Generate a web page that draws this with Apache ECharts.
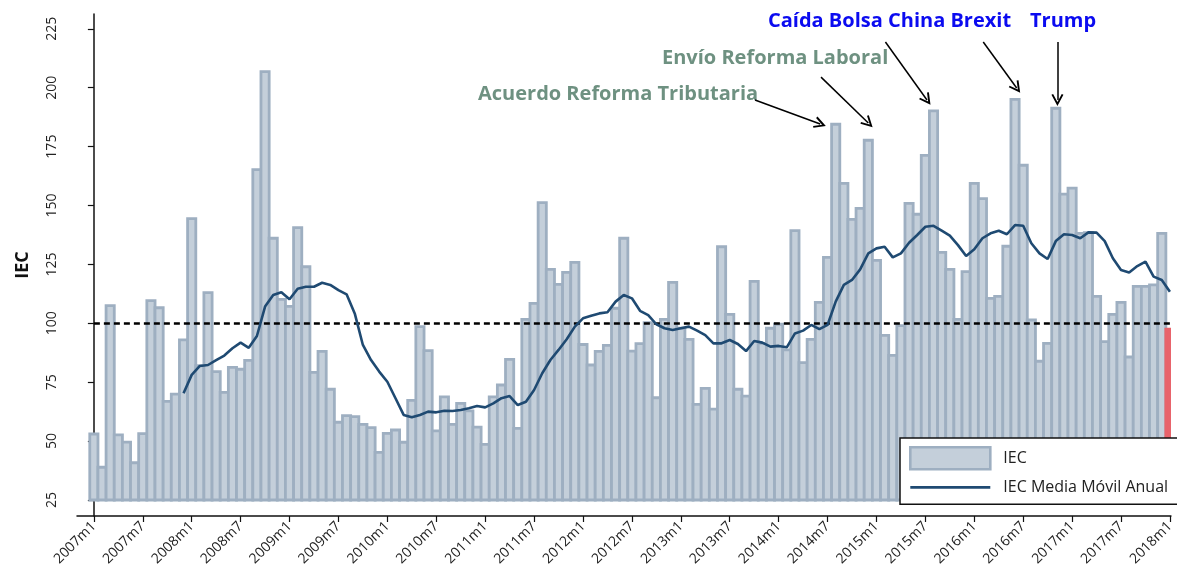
<!DOCTYPE html>
<html>
<head>
<meta charset="utf-8">
<title>IEC</title>
<script src="https://cdn.jsdelivr.net/npm/echarts@6/dist/echarts.min.js"></script>
<style>
  html, body { margin: 0; padding: 0; background: #fff; }
  #chart { width: 1177px; height: 575px; }
</style>
</head>
<body>
<div id="chart"></div>
<script>
// datos mensuales 2007m1 - 2018m1
const startYear = 2007;
const iecValues = [
  53.0, 38.9, 107.5, 52.6, 49.6, 40.8, 53.2, 109.6, 106.6, 66.9, 69.9, 93.0,
  144.4, 82.0, 113.0, 79.5, 70.7, 81.3, 80.5, 84.3, 165.2, 206.8, 136.1, 110.2,
  107.2, 140.6, 124.0, 79.2, 88.1, 72.0, 58.0, 60.8, 60.4, 57.1, 55.7, 45.2,
  53.3, 54.7, 49.5, 67.3, 98.6, 88.4, 54.3, 68.8, 57.1, 66.0, 62.8, 55.9,
  48.6, 68.8, 73.8, 84.7, 55.4, 101.7, 108.5, 151.2, 122.9, 116.5, 121.6, 125.9,
  91.0, 82.3, 88.1, 90.6, 106.4, 136.1, 88.2, 91.4, 100.3, 68.4, 101.7, 117.4,
  97.9, 93.2, 65.6, 72.4, 63.6, 132.5, 103.8, 72.0, 69.1, 117.8, 91.5, 97.9,
  99.6, 88.7, 139.3, 83.3, 93.2, 108.9, 128.0, 184.5, 159.4, 144.1, 148.8, 177.7,
  126.7, 94.9, 86.4, 99.0, 150.9, 146.3, 171.3, 190.2, 130.1, 122.9, 101.7, 121.9,
  159.4, 152.9, 110.6, 111.4, 132.7, 195.1, 167.1, 101.4, 83.9, 91.5, 191.3, 154.8,
  157.4, 138.2, 138.5, 111.4, 92.2, 103.8, 108.9, 85.7, 115.7, 115.7, 116.3, 138.2,
  97.5
];
const movingAvg = [
  null, null, null, null, null, null, null, null, null, null, null, 70.3,
  78.1, 81.9, 82.3, 84.4, 86.3, 89.4, 91.8, 89.6, 94.6, 107.1, 112.0, 113.2,
  110.2, 114.7, 115.5, 115.5, 117.2, 116.3, 114.1, 112.3, 104.2, 90.8, 84.4, 79.5,
  75.2, 68.2, 61.1, 60.1, 61.1, 62.5, 62.2, 62.9, 62.8, 63.2, 63.9, 64.9,
  64.3, 66.0, 68.2, 69.1, 65.3, 66.7, 71.7, 78.8, 84.4, 88.7, 93.2, 98.6,
  102.1, 103.2, 104.2, 104.7, 109.2, 112.0, 110.6, 105.3, 103.5, 99.6, 97.9, 97.2,
  97.9, 98.6, 96.9, 95.0, 91.5, 91.5, 92.9, 91.2, 88.2, 92.5, 91.8, 90.1,
  90.4, 89.8, 95.7, 96.9, 99.3, 97.5, 99.3, 109.2, 116.3, 118.4, 122.9, 129.7,
  131.8, 132.5, 128.0, 129.7, 134.2, 137.5, 141.0, 141.4, 139.3, 137.2, 133.2, 128.6,
  131.4, 136.1, 138.2, 139.3, 137.8, 141.7, 141.4, 134.0, 129.7, 127.3, 134.9, 137.8,
  137.5, 136.1, 138.6, 138.5, 134.9, 127.6, 122.6, 121.6, 124.3, 126.2, 119.8, 118.4,
  113.4
];
const barBase = 25;
const refLevel = 100;
const xTicks = [0, 6, 12, 18, 24, 30, 36, 42, 48, 54, 60, 66, 72, 78, 84, 90, 96, 102, 108, 114, 120, 126, 132];
const yTicks = [25, 50, 75, 100, 125, 150, 175, 200, 225];

const months = iecValues.map((v, i) => (startYear + Math.floor(i / 12)) + 'm' + (i % 12 + 1));

const barFill = '#c4cfda';
const barBorder = '#9eafc1';
const lineColor = '#1f4a72';

const arrowHead = 'path://M5,0 L10,10 L8.6,10.8 L5,3.6 L1.4,10.8 L0,10 Z';
function arrow(from, to) {
  return [
    { coord: from, symbol: 'none' },
    { coord: to, symbol: arrowHead, symbolSize: [12, 12] }
  ];
}

// barras desde 25 hasta el valor
function renderBar(params, api) {
  const x = api.value(0);
  const top = api.coord([x, api.value(1)]);
  const bottom = api.coord([x, barBase]);
  const w = 8.2;
  return {
    type: 'rect',
    shape: { x: top[0] - w / 2, y: top[1], width: w, height: bottom[1] - top[1] },
    style: api.style()
  };
}

const chart = echarts.init(document.getElementById('chart'));
const lastIdx = iecValues.length - 1;

const option = {
  animation: false,
  textStyle: { fontFamily: 'Open Sans' },
  grid: { left: 77, right: 0, top: 14, bottom: 59, containLabel: false },
  legend: {
    data: [
      { name: 'IEC', icon: 'rect', itemStyle: { color: barFill, borderColor: barBorder, borderWidth: 2.6 } },
      { name: 'IEC Media Móvil Anual', itemStyle: { opacity: 0 }, lineStyle: { color: lineColor, width: 2.6 } }
    ],
    orient: 'vertical',
    left: 900,
    top: 438,
    itemWidth: 80,
    itemHeight: 22,
    itemGap: 8,
    padding: [8, 80, 8, 9],
    backgroundColor: '#fff',
    borderColor: '#111',
    borderWidth: 1.5,
    borderRadius: 0,
    textStyle: { fontSize: 16, color: '#222', padding: [0, 0, 0, 8] },
    z: 10
  },
  xAxis: {
    type: 'value',
    min: -2.07,
    max: 132.12,
    splitLine: { show: false },
    axisLine: { lineStyle: { color: '#111', width: 1.5 } },
    axisTick: { customValues: xTicks, length: 6, lineStyle: { color: '#111', width: 1.2 } },
    axisLabel: {
      customValues: xTicks,
      rotate: 45,
      fontSize: 14,
      color: '#222',
      margin: 8,
      formatter: v => months[Math.round(v)] || ''
    }
  },
  yAxis: {
    type: 'value',
    min: 18.2,
    max: 231.3,
    name: 'IEC',
    nameLocation: 'middle',
    nameGap: 45,
    nameTextStyle: { fontSize: 18, fontWeight: 'bold', color: '#111' },
    splitLine: { show: false },
    axisLine: { show: true, lineStyle: { color: '#111', width: 1.5 } },
    axisTick: { show: true, customValues: yTicks, length: 6, lineStyle: { color: '#111', width: 1.2 } },
    axisLabel: { customValues: yTicks, rotate: 90, fontSize: 14, color: '#222', margin: 18 }
  },
  series: [
    {
      name: 'IEC',
      type: 'custom',
      renderItem: renderBar,
      clip: true,
      encode: { x: 0, y: 1 },
      itemStyle: { color: barFill, borderColor: barBorder, borderWidth: 2.8 },
      data: iecValues.map((v, i) => i === lastIdx
        ? { value: [i, v], itemStyle: { color: '#e8636b', borderColor: '#e8636b' } }
        : [i, v])
    },
    {
      name: 'IEC Media Móvil Anual',
      type: 'line',
      symbol: 'none',
      z: 5,
      lineStyle: { color: lineColor, width: 2.6 },
      itemStyle: { color: lineColor },
      data: movingAvg.map((v, i) => [i, v]),
      markLine: {
        silent: true,
        symbol: 'none',
        label: { show: false },
        lineStyle: { color: '#000', type: 'solid', width: 1.5 },
        data: [
          [
            { coord: [0, refLevel], symbol: 'none', lineStyle: { type: [6, 4], width: 2.6, color: '#000' } },
            { coord: [132.12, refLevel], symbol: 'none' }
          ],
          arrow([81.1, 194.8], [89.1, 184.6]),
          arrow([89.2, 204.5], [95.0, 185.0]),
          arrow([97.1, 219.4], [102.2, 194.8]),
          arrow([109.1, 219.4], [113.2, 199.9]),
          arrow([118.2, 219.4], [118.2, 194.8])
        ]
      }
    }
  ],
  graphic: [
    { type: 'text', left: 478, top: 84, style: { text: 'Acuerdo Reforma Tributaria', fill: '#6e9181', font: 'bold 20px "Open Sans"' } },
    { type: 'text', left: 662, top: 48, style: { text: 'Envío Reforma Laboral', fill: '#6e9181', font: 'bold 20px "Open Sans"' } },
    { type: 'text', left: 768, top: 11, style: { text: 'Caída Bolsa China Brexit', fill: '#0b0bf0', font: 'bold 20px "Open Sans"' } },
    { type: 'text', left: 1030, top: 11, style: { text: 'Trump', fill: '#0b0bf0', font: 'bold 20px "Open Sans"' } }
  ]
};

chart.setOption(option);
window.addEventListener('resize', () => chart.resize());
</script>
</body>
</html>
